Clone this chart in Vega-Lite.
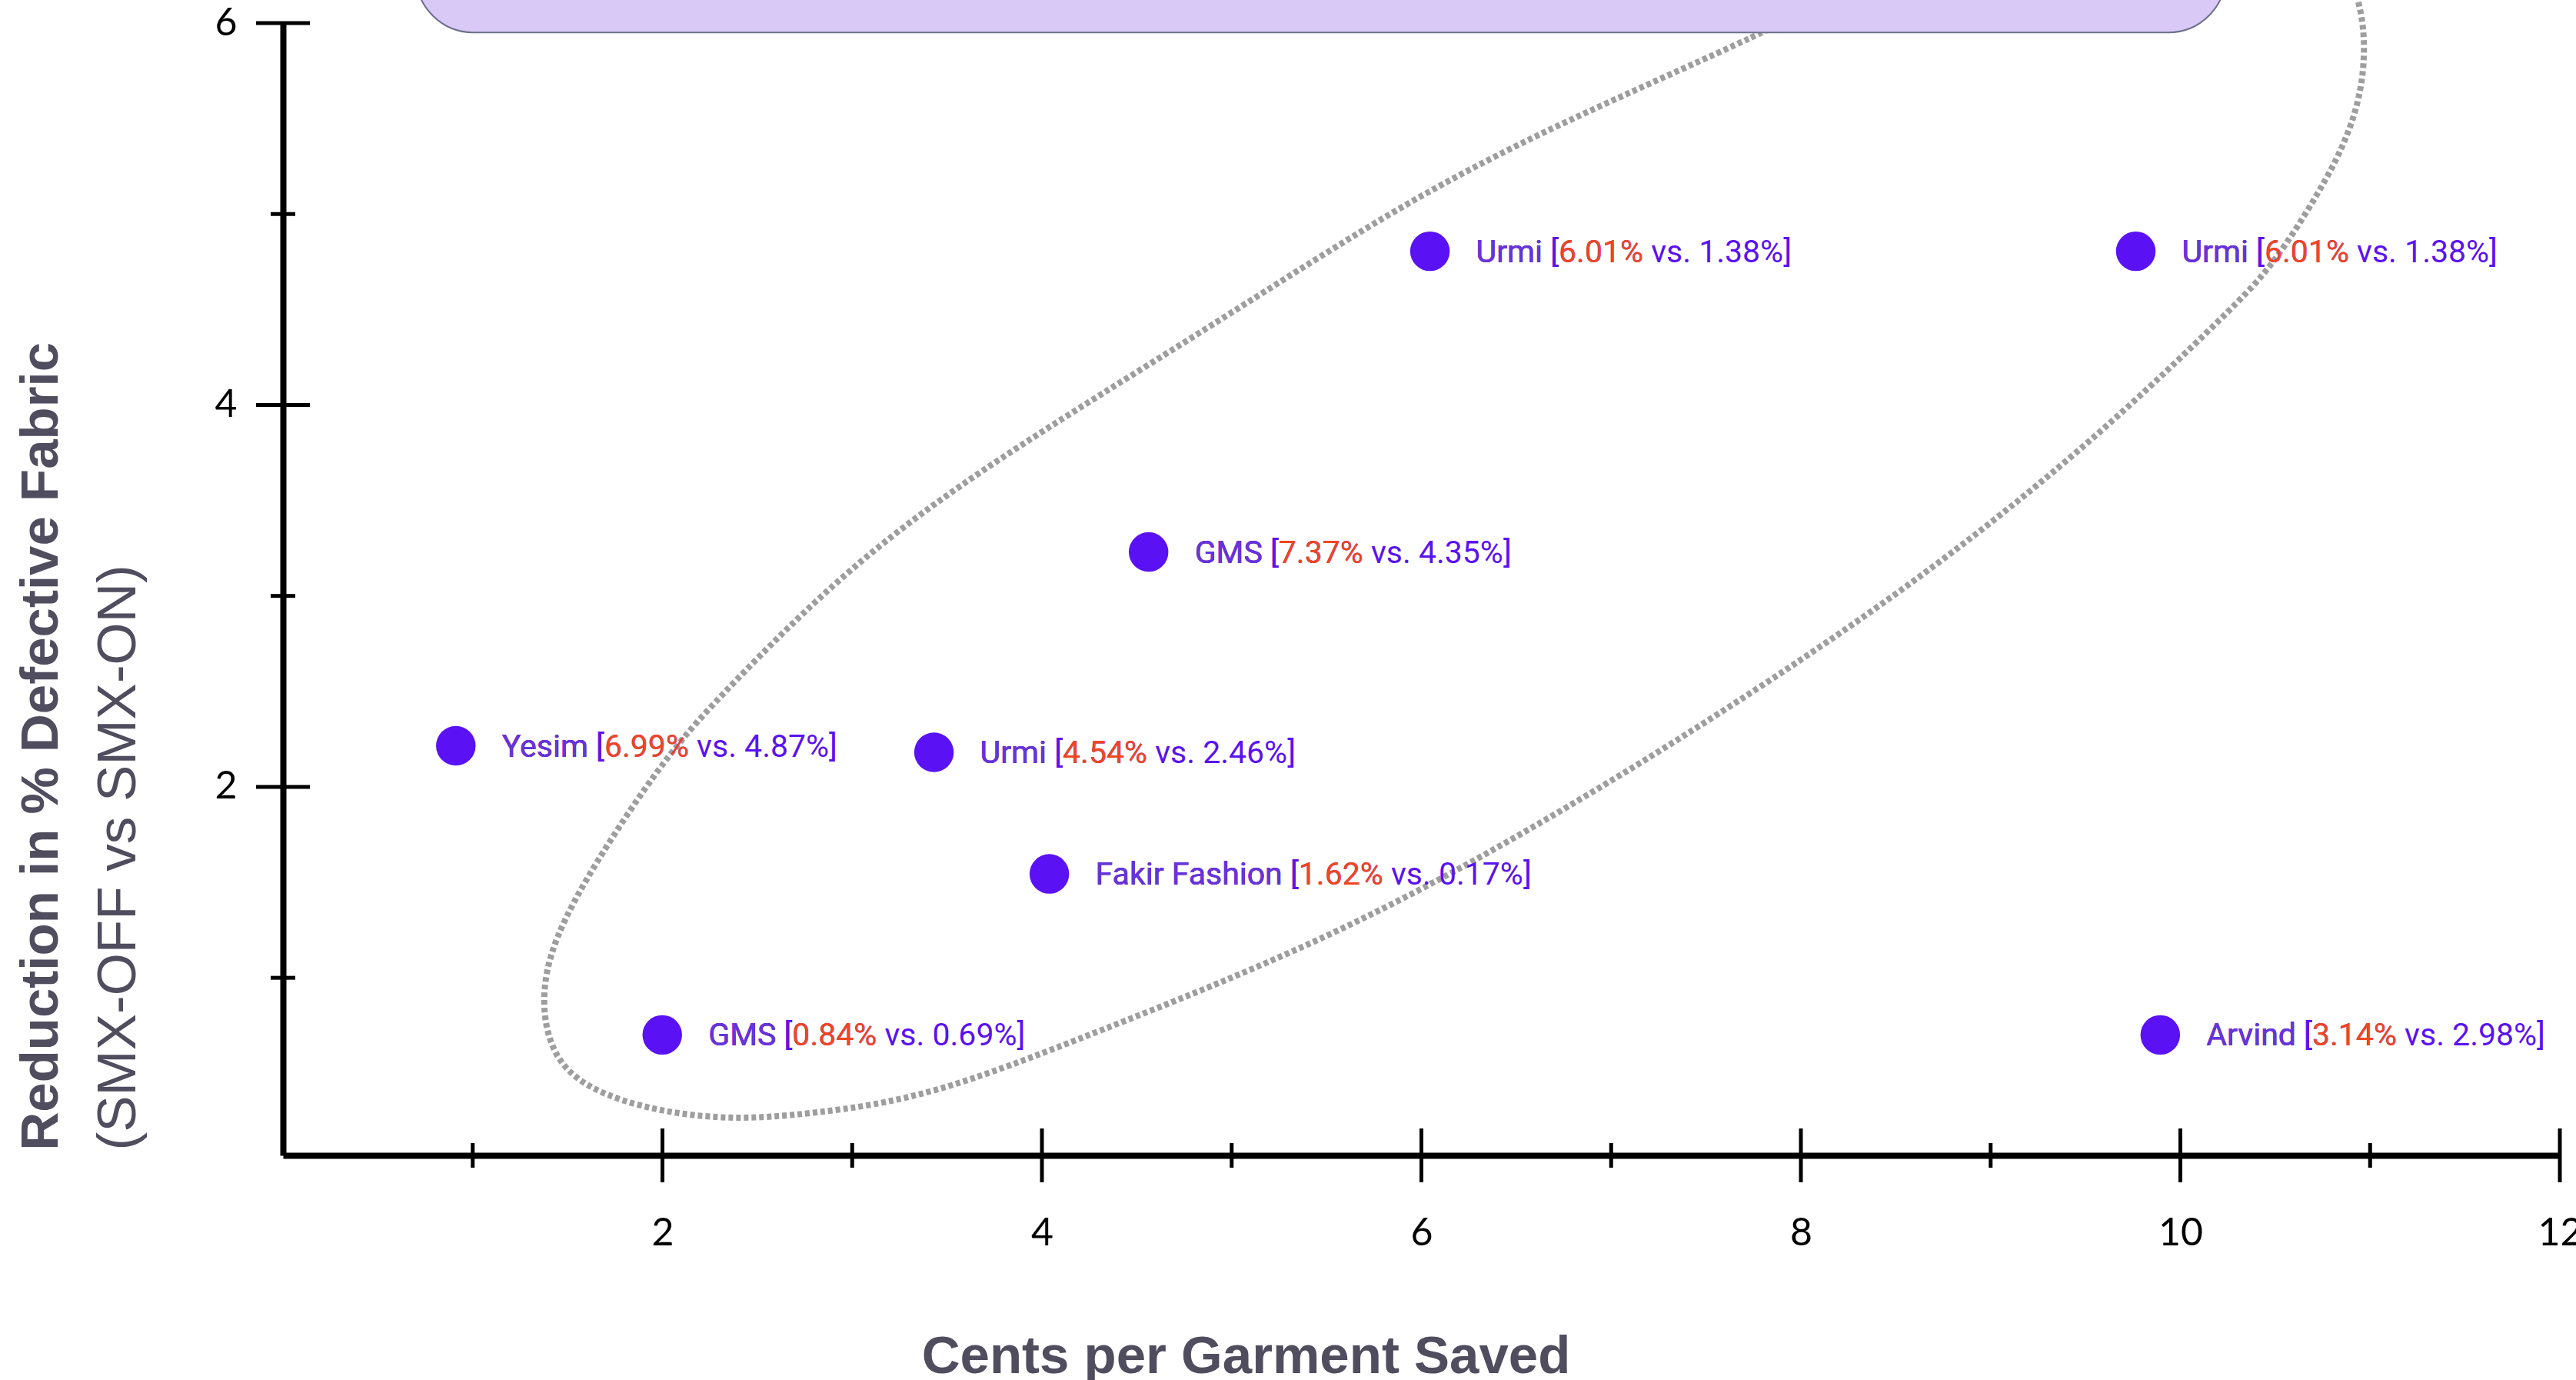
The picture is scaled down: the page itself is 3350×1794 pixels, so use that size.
{
  "$schema": "https://vega.github.io/schema/vega-lite/v6.json",
  "autosize": {"type": "none"},
  "width": 2961,
  "height": 1472,
  "padding": {"left": 368, "top": 30, "right": 21, "bottom": 292},
  "background": "white",
  "config": {"view": {"stroke": null}},
  "datasets": {
    "points": [
      {"name": "Yesim", "x": 0.911, "y": 2.215, "full": "Yesim [6.99% vs. 4.87%]", "pre2": "Yesim [6.99%", "pre1": "Yesim ["},
      {"name": "Urmi", "x": 3.431, "y": 2.181, "full": "Urmi [4.54% vs. 2.46%]", "pre2": "Urmi [4.54%", "pre1": "Urmi ["},
      {"name": "GMS", "x": 4.562, "y": 3.23, "full": "GMS [7.37% vs. 4.35%]", "pre2": "GMS [7.37%", "pre1": "GMS ["},
      {"name": "Urmi", "x": 6.045, "y": 4.805, "full": "Urmi [6.01% vs. 1.38%]", "pre2": "Urmi [6.01%", "pre1": "Urmi ["},
      {"name": "Urmi", "x": 9.765, "y": 4.805, "full": "Urmi [6.01% vs. 1.38%]", "pre2": "Urmi [6.01%", "pre1": "Urmi ["},
      {"name": "Fakir Fashion", "x": 4.039, "y": 1.544, "full": "Fakir Fashion [1.62% vs. 0.17%]", "pre2": "Fakir Fashion [1.62%", "pre1": "Fakir Fashion ["},
      {"name": "GMS", "x": 1.999, "y": 0.701, "full": "GMS [0.84% vs. 0.69%]", "pre2": "GMS [0.84%", "pre1": "GMS ["},
      {"name": "Arvind", "x": 9.894, "y": 0.701, "full": "Arvind [3.14% vs. 2.98%]", "pre2": "Arvind [3.14%", "pre1": "Arvind ["}
    ],
    "ellipse": [
      {"i": 1, "x": 8.119, "y": 6.12},
      {"i": 2, "x": 7.828, "y": 5.957},
      {"i": 3, "x": 6.919, "y": 5.561},
      {"i": 4, "x": 5.985, "y": 5.114},
      {"i": 5, "x": 4.862, "y": 4.391},
      {"i": 6, "x": 3.731, "y": 3.703},
      {"i": 7, "x": 2.977, "y": 3.153},
      {"i": 8, "x": 2.325, "y": 2.499},
      {"i": 9, "x": 2.043, "y": 2.189},
      {"i": 10, "x": 1.734, "y": 1.742},
      {"i": 11, "x": 1.46, "y": 1.286},
      {"i": 12, "x": 1.36, "y": 0.959},
      {"i": 13, "x": 1.39, "y": 0.664},
      {"i": 14, "x": 1.528, "y": 0.456},
      {"i": 15, "x": 1.871, "y": 0.318},
      {"i": 16, "x": 2.334, "y": 0.252},
      {"i": 17, "x": 2.788, "y": 0.287},
      {"i": 18, "x": 3.405, "y": 0.374},
      {"i": 19, "x": 4.254, "y": 0.701},
      {"i": 20, "x": 5.54, "y": 1.209},
      {"i": 21, "x": 6.663, "y": 1.819},
      {"i": 22, "x": 7.777, "y": 2.508},
      {"i": 23, "x": 8.72, "y": 3.153},
      {"i": 24, "x": 9.577, "y": 3.841},
      {"i": 25, "x": 10.28, "y": 4.512},
      {"i": 26, "x": 10.485, "y": 4.727},
      {"i": 27, "x": 10.734, "y": 5.114},
      {"i": 28, "x": 10.9, "y": 5.432},
      {"i": 29, "x": 10.985, "y": 5.776},
      {"i": 30, "x": 10.95, "y": 6.206},
      {"i": 31, "x": 10.691, "y": 6.508},
      {"i": 32, "x": 10.091, "y": 6.637},
      {"i": 33, "x": 9.234, "y": 6.508},
      {"i": 34, "x": 8.463, "y": 6.249}
    ],
    "xticks": [
      {"v": 1, "kind": "minor"}, {"v": 2, "kind": "major"}, {"v": 3, "kind": "minor"}, {"v": 4, "kind": "major"},
      {"v": 5, "kind": "minor"}, {"v": 6, "kind": "major"}, {"v": 7, "kind": "minor"}, {"v": 8, "kind": "major"},
      {"v": 9, "kind": "minor"}, {"v": 10, "kind": "major"}, {"v": 11, "kind": "minor"}, {"v": 12, "kind": "major"}
    ],
    "yticks": [
      {"v": 1, "kind": "minor"}, {"v": 2, "kind": "major"}, {"v": 3, "kind": "minor"},
      {"v": 4, "kind": "major"}, {"v": 5, "kind": "minor"}, {"v": 6, "kind": "major"}
    ],
    "box": [
      {"x1": 0.7, "x2": 10.24, "y1": 5.951, "y2": 7.2}
    ]
  },
  "resolve": {"axis": {"y": "independent"}},
  "layer": [
    {
      "data": {"name": "ellipse"},
      "mark": {"type": "line", "interpolate": "basis-closed", "strokeDash": [6, 4], "strokeWidth": 8, "color": "#9e9e9e"},
      "encoding": {
        "x": {"field": "x", "type": "quantitative", "scale": {"domain": [0, 12], "nice": false},
          "axis": {"orient": "bottom", "values": [2, 4, 6, 8, 10, 12], "grid": false, "ticks": false, "tickSize": 0,
            "domainColor": "black", "domainWidth": 8, "labelFont": "Lato", "labelFontSize": 50, "labelColor": "black",
            "labelPadding": 76, "labelFlush": false, "labelOverlap": false,
            "title": "Cents per Garment Saved", "titleFont": "Liberation Sans", "titleFontWeight": "bold", "titleFontSize": 69,
            "titleColor": "#4f4d5e", "titleX": 1252, "titleY": 282, "titleAlign": "center", "titleBaseline": "alphabetic"}},
        "y": {"field": "y", "type": "quantitative", "scale": {"domain": [0.07, 6], "nice": false, "zero": false},
          "axis": {"orient": "left", "labels": false, "ticks": false, "domain": false, "grid": false,
            "title": "(SMX-OFF vs SMX-ON)", "titleFont": "Liberation Sans", "titleFontWeight": "normal", "titleFontSize": 71,
            "titleColor": "#4f4d5e", "titleX": -214, "titleY": 1465, "titleAngle": 270, "titleAlign": "left", "titleBaseline": "middle"}},
        "order": {"field": "i", "type": "quantitative"}
      }
    },
    {
      "data": {"name": "points"},
      "mark": {"type": "circle", "size": 2650, "opacity": 1, "color": "#5a12f5"},
      "encoding": {
        "x": {"field": "x", "type": "quantitative", "scale": {"domain": [0, 12], "nice": false},
          "axis": {"orient": "bottom", "values": [2, 4, 6, 8, 10, 12], "grid": false, "ticks": false, "tickSize": 0,
            "domainColor": "black", "domainWidth": 8, "labelFont": "Lato", "labelFontSize": 50, "labelColor": "black",
            "labelPadding": 76, "labelFlush": false, "labelOverlap": false,
            "title": "Cents per Garment Saved", "titleFont": "Liberation Sans", "titleFontWeight": "bold", "titleFontSize": 69,
            "titleColor": "#4f4d5e", "titleX": 1252, "titleY": 282, "titleAlign": "center", "titleBaseline": "alphabetic"}},
        "y": {"field": "y", "type": "quantitative", "scale": {"domain": [0.07, 6], "nice": false, "zero": false},
          "axis": {"orient": "left", "values": [2, 4, 6], "grid": false, "ticks": false, "tickSize": 0,
            "domainColor": "black", "domainWidth": 8, "labelFont": "Lato", "labelFontSize": 50, "labelColor": "black",
            "labelPadding": 60, "labelFlush": false, "labelOverlap": false,
            "title": "Reduction in % Defective Fabric", "titleFont": "Liberation Sans", "titleFontWeight": "bold", "titleFontSize": 69,
            "titleColor": "#4f4d5e", "titleX": -315, "titleY": 1465, "titleAngle": 270, "titleAlign": "left", "titleBaseline": "middle"}}
      }
    },
    {
      "data": {"name": "points"},
      "mark": {"type": "text", "align": "left", "baseline": "middle", "dx": 60, "dy": 2, "font": "Roboto", "fontSize": 41, "color": "#5a12f2"},
      "encoding": {
        "x": {"field": "x", "type": "quantitative",
          "axis": {"orient": "bottom", "values": [2, 4, 6, 8, 10, 12], "grid": false, "ticks": false, "tickSize": 0,
            "domainColor": "black", "domainWidth": 8, "labelFont": "Lato", "labelFontSize": 50, "labelColor": "black",
            "labelPadding": 76, "labelFlush": false, "labelOverlap": false,
            "title": "Cents per Garment Saved", "titleFont": "Liberation Sans", "titleFontWeight": "bold", "titleFontSize": 69,
            "titleColor": "#4f4d5e", "titleX": 1252, "titleY": 282, "titleAlign": "center", "titleBaseline": "alphabetic"}},
        "y": {"field": "y", "type": "quantitative", "axis": null},
        "text": {"field": "full"}
      }
    },
    {
      "data": {"name": "points"},
      "mark": {"type": "text", "align": "left", "baseline": "middle", "dx": 60, "dy": 2, "font": "Roboto", "fontSize": 41, "color": "#f0461e"},
      "encoding": {
        "x": {"field": "x", "type": "quantitative",
          "axis": {"orient": "bottom", "values": [2, 4, 6, 8, 10, 12], "grid": false, "ticks": false, "tickSize": 0,
            "domainColor": "black", "domainWidth": 8, "labelFont": "Lato", "labelFontSize": 50, "labelColor": "black",
            "labelPadding": 76, "labelFlush": false, "labelOverlap": false,
            "title": "Cents per Garment Saved", "titleFont": "Liberation Sans", "titleFontWeight": "bold", "titleFontSize": 69,
            "titleColor": "#4f4d5e", "titleX": 1252, "titleY": 282, "titleAlign": "center", "titleBaseline": "alphabetic"}},
        "y": {"field": "y", "type": "quantitative", "axis": null},
        "text": {"field": "pre2"}
      }
    },
    {
      "data": {"name": "points"},
      "mark": {"type": "text", "align": "left", "baseline": "middle", "dx": 60, "dy": 2, "font": "Roboto", "fontSize": 41, "color": "#5a12f2"},
      "encoding": {
        "x": {"field": "x", "type": "quantitative",
          "axis": {"orient": "bottom", "values": [2, 4, 6, 8, 10, 12], "grid": false, "ticks": false, "tickSize": 0,
            "domainColor": "black", "domainWidth": 8, "labelFont": "Lato", "labelFontSize": 50, "labelColor": "black",
            "labelPadding": 76, "labelFlush": false, "labelOverlap": false,
            "title": "Cents per Garment Saved", "titleFont": "Liberation Sans", "titleFontWeight": "bold", "titleFontSize": 69,
            "titleColor": "#4f4d5e", "titleX": 1252, "titleY": 282, "titleAlign": "center", "titleBaseline": "alphabetic"}},
        "y": {"field": "y", "type": "quantitative", "axis": null},
        "text": {"field": "pre1"}
      }
    },
    {
      "data": {"name": "points"},
      "mark": {"type": "text", "align": "left", "baseline": "middle", "dx": 60, "dy": 2, "font": "Roboto", "fontSize": 41, "color": "#6236dc"},
      "encoding": {
        "x": {"field": "x", "type": "quantitative",
          "axis": {"orient": "bottom", "values": [2, 4, 6, 8, 10, 12], "grid": false, "ticks": false, "tickSize": 0,
            "domainColor": "black", "domainWidth": 8, "labelFont": "Lato", "labelFontSize": 50, "labelColor": "black",
            "labelPadding": 76, "labelFlush": false, "labelOverlap": false,
            "title": "Cents per Garment Saved", "titleFont": "Liberation Sans", "titleFontWeight": "bold", "titleFontSize": 69,
            "titleColor": "#4f4d5e", "titleX": 1252, "titleY": 282, "titleAlign": "center", "titleBaseline": "alphabetic"}},
        "y": {"field": "y", "type": "quantitative", "axis": null},
        "text": {"field": "name"}
      }
    },
    {
      "data": {"name": "xticks"},
      "mark": {"type": "tick", "orient": "vertical", "thickness": 5, "color": "black", "opacity": 1},
      "encoding": {
        "x": {"field": "v", "type": "quantitative",
          "axis": {"orient": "bottom", "values": [2, 4, 6, 8, 10, 12], "grid": false, "ticks": false, "tickSize": 0,
            "domainColor": "black", "domainWidth": 8, "labelFont": "Lato", "labelFontSize": 50, "labelColor": "black",
            "labelPadding": 76, "labelFlush": false, "labelOverlap": false,
            "title": "Cents per Garment Saved", "titleFont": "Liberation Sans", "titleFontWeight": "bold", "titleFontSize": 69,
            "titleColor": "#4f4d5e", "titleX": 1252, "titleY": 282, "titleAlign": "center", "titleBaseline": "alphabetic"}},
        "y": {"datum": 0.07, "type": "quantitative", "axis": null},
        "size": {"condition": {"test": "datum.kind === 'major'", "value": 70}, "value": 32}
      }
    },
    {
      "data": {"name": "yticks"},
      "mark": {"type": "tick", "orient": "horizontal", "thickness": 5, "color": "black", "opacity": 1},
      "encoding": {
        "y": {"field": "v", "type": "quantitative", "axis": null},
        "x": {"datum": 0, "type": "quantitative",
          "axis": {"orient": "bottom", "values": [2, 4, 6, 8, 10, 12], "grid": false, "ticks": false, "tickSize": 0,
            "domainColor": "black", "domainWidth": 8, "labelFont": "Lato", "labelFontSize": 50, "labelColor": "black",
            "labelPadding": 76, "labelFlush": false, "labelOverlap": false,
            "title": "Cents per Garment Saved", "titleFont": "Liberation Sans", "titleFontWeight": "bold", "titleFontSize": 69,
            "titleColor": "#4f4d5e", "titleX": 1252, "titleY": 282, "titleAlign": "center", "titleBaseline": "alphabetic"}},
        "size": {"condition": {"test": "datum.kind === 'major'", "value": 70}, "value": 32}
      }
    },
    {
      "data": {"name": "box"},
      "mark": {"type": "rect", "cornerRadius": 75, "fill": "#d9c9f6", "stroke": "#6b7089", "strokeWidth": 2},
      "encoding": {
        "x": {"field": "x1", "type": "quantitative",
          "axis": {"orient": "bottom", "values": [2, 4, 6, 8, 10, 12], "grid": false, "ticks": false, "tickSize": 0,
            "domainColor": "black", "domainWidth": 8, "labelFont": "Lato", "labelFontSize": 50, "labelColor": "black",
            "labelPadding": 76, "labelFlush": false, "labelOverlap": false,
            "title": "Cents per Garment Saved", "titleFont": "Liberation Sans", "titleFontWeight": "bold", "titleFontSize": 69,
            "titleColor": "#4f4d5e", "titleX": 1252, "titleY": 282, "titleAlign": "center", "titleBaseline": "alphabetic"}},
        "x2": {"field": "x2"},
        "y": {"field": "y1", "type": "quantitative", "axis": null},
        "y2": {"field": "y2"}
      }
    }
  ]
}
